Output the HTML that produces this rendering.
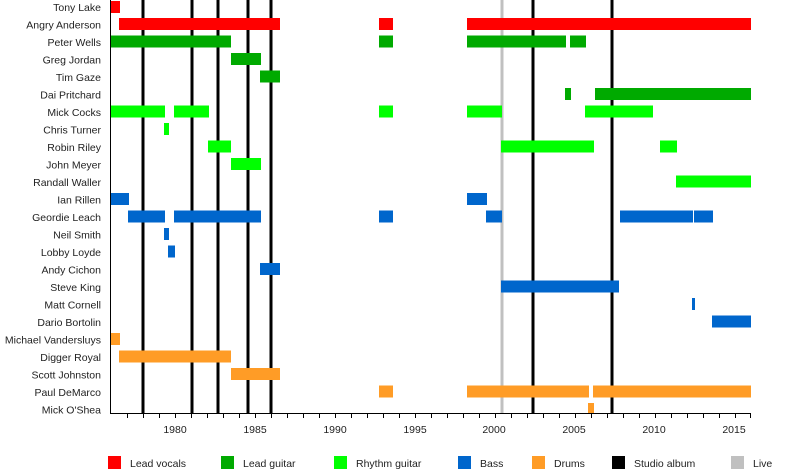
<!DOCTYPE html>
<html><head><meta charset="utf-8"><style>
html,body{margin:0;padding:0;background:#fff;}
svg{display:block;font-family:"Liberation Sans",sans-serif;}
</style></head><body>
<svg width="800" height="474" xmlns="http://www.w3.org/2000/svg">
<g stroke-width="3">
<line x1="143" y1="0" x2="143" y2="414" stroke="#000"/>
<line x1="192" y1="0" x2="192" y2="414" stroke="#000"/>
<line x1="218" y1="0" x2="218" y2="414" stroke="#000"/>
<line x1="248" y1="0" x2="248" y2="414" stroke="#000"/>
<line x1="271" y1="0" x2="271" y2="414" stroke="#000"/>
<line x1="502" y1="0" x2="502" y2="414" stroke="#c0c0c0"/>
<line x1="533" y1="0" x2="533" y2="414" stroke="#000"/>
<line x1="612" y1="0" x2="612" y2="414" stroke="#000"/>
</g>
<g>
<rect x="110" y="1" width="10" height="12" fill="#ff0000"/>
<rect x="119" y="18" width="161" height="12" fill="#ff0000"/>
<rect x="379" y="18" width="14" height="12" fill="#ff0000"/>
<rect x="467" y="18" width="284" height="12" fill="#ff0000"/>
<rect x="110" y="35.5" width="121" height="12" fill="#00aa00"/>
<rect x="379" y="35.5" width="14" height="12" fill="#00aa00"/>
<rect x="467" y="35.5" width="99" height="12" fill="#00aa00"/>
<rect x="570" y="35.5" width="16" height="12" fill="#00aa00"/>
<rect x="231" y="53" width="30" height="12" fill="#00aa00"/>
<rect x="260" y="70.5" width="20" height="12" fill="#00aa00"/>
<rect x="565" y="88" width="6" height="12" fill="#00aa00"/>
<rect x="595" y="88" width="156" height="12" fill="#00aa00"/>
<rect x="110" y="105.5" width="55" height="12" fill="#00ff00"/>
<rect x="174" y="105.5" width="35" height="12" fill="#00ff00"/>
<rect x="379" y="105.5" width="14" height="12" fill="#00ff00"/>
<rect x="467" y="105.5" width="35" height="12" fill="#00ff00"/>
<rect x="585" y="105.5" width="68" height="12" fill="#00ff00"/>
<rect x="164" y="123" width="5" height="12" fill="#00ff00"/>
<rect x="208" y="140.5" width="23" height="12" fill="#00ff00"/>
<rect x="501" y="140.5" width="93" height="12" fill="#00ff00"/>
<rect x="660" y="140.5" width="17" height="12" fill="#00ff00"/>
<rect x="231" y="158" width="30" height="12" fill="#00ff00"/>
<rect x="676" y="175.5" width="75" height="12" fill="#00ff00"/>
<rect x="110" y="193" width="19" height="12" fill="#0066cc"/>
<rect x="467" y="193" width="20" height="12" fill="#0066cc"/>
<rect x="128" y="210.5" width="37" height="12" fill="#0066cc"/>
<rect x="174" y="210.5" width="87" height="12" fill="#0066cc"/>
<rect x="379" y="210.5" width="14" height="12" fill="#0066cc"/>
<rect x="486" y="210.5" width="16" height="12" fill="#0066cc"/>
<rect x="620" y="210.5" width="73" height="12" fill="#0066cc"/>
<rect x="694" y="210.5" width="19" height="12" fill="#0066cc"/>
<rect x="164" y="228" width="5" height="12" fill="#0066cc"/>
<rect x="168" y="245.5" width="7" height="12" fill="#0066cc"/>
<rect x="260" y="263" width="20" height="12" fill="#0066cc"/>
<rect x="501" y="280.5" width="118" height="12" fill="#0066cc"/>
<rect x="692" y="298" width="3" height="12" fill="#0066cc"/>
<rect x="712" y="315.5" width="39" height="12" fill="#0066cc"/>
<rect x="110" y="333" width="10" height="12" fill="#ff9c26"/>
<rect x="119" y="350.5" width="112" height="12" fill="#ff9c26"/>
<rect x="231" y="368" width="49" height="12" fill="#ff9c26"/>
<rect x="379" y="385.5" width="14" height="12" fill="#ff9c26"/>
<rect x="467" y="385.5" width="122" height="12" fill="#ff9c26"/>
<rect x="593" y="385.5" width="158" height="12" fill="#ff9c26"/>
<rect x="588" y="403" width="6" height="11" fill="#ff9c26"/>
</g>
<line x1="110.5" y1="0" x2="110.5" y2="414" stroke="#000"/>
<line x1="110" y1="413.5" x2="751" y2="413.5" stroke="#000"/>
<g font-size="10.5" fill="#222" text-anchor="end">
<text x="101" y="11">Tony Lake</text>
<text x="101" y="28.5">Angry Anderson</text>
<text x="101" y="46">Peter Wells</text>
<text x="101" y="63.5">Greg Jordan</text>
<text x="101" y="81">Tim Gaze</text>
<text x="101" y="98.5">Dai Pritchard</text>
<text x="101" y="116">Mick Cocks</text>
<text x="101" y="133.5">Chris Turner</text>
<text x="101" y="151">Robin Riley</text>
<text x="101" y="168.5">John Meyer</text>
<text x="101" y="186">Randall Waller</text>
<text x="101" y="203.5">Ian Rillen</text>
<text x="101" y="221">Geordie Leach</text>
<text x="101" y="238.5">Neil Smith</text>
<text x="101" y="256">Lobby Loyde</text>
<text x="101" y="273.5">Andy Cichon</text>
<text x="101" y="291">Steve King</text>
<text x="101" y="308.5">Matt Cornell</text>
<text x="101" y="326">Dario Bortolin</text>
<text x="101" y="343.5">Michael Vandersluys</text>
<text x="101" y="361">Digger Royal</text>
<text x="101" y="378.5">Scott Johnston</text>
<text x="101" y="396">Paul DeMarco</text>
<text x="101" y="413.5">Mick O'Shea</text>
</g>
<g font-size="10.5" fill="#222" text-anchor="middle">
<text x="175" y="433">1980</text>
<text x="255" y="433">1985</text>
<text x="335" y="433">1990</text>
<text x="415" y="433">1995</text>
<text x="494" y="433">2000</text>
<text x="574" y="433">2005</text>
<text x="654" y="433">2010</text>
<text x="734" y="433">2015</text>
</g>
<g>
<rect x="108" y="456" width="13" height="13" fill="#ff0000"/>
<rect x="221" y="456" width="13" height="13" fill="#00aa00"/>
<rect x="334" y="456" width="13" height="13" fill="#00ff00"/>
<rect x="458" y="456" width="13" height="13" fill="#0066cc"/>
<rect x="532" y="456" width="13" height="13" fill="#ff9c26"/>
<rect x="612" y="456" width="13" height="13" fill="#000"/>
<rect x="731" y="456" width="13" height="13" fill="#c0c0c0"/>
</g>
<g font-size="10.5" fill="#222">
<text x="130" y="467">Lead vocals</text>
<text x="243" y="467">Lead guitar</text>
<text x="356" y="467">Rhythm guitar</text>
<text x="480" y="467">Bass</text>
<text x="554" y="467">Drums</text>
<text x="634" y="467">Studio album</text>
<text x="753" y="467">Live</text>
</g>
<g stroke="#000" stroke-width="1">
<line x1="127.5" y1="414" x2="127.5" y2="418"/><line x1="143.5" y1="414" x2="143.5" y2="418"/><line x1="159.5" y1="414" x2="159.5" y2="418"/><line x1="175.5" y1="414" x2="175.5" y2="418"/><line x1="191.5" y1="414" x2="191.5" y2="418"/><line x1="207.5" y1="414" x2="207.5" y2="418"/><line x1="223.5" y1="414" x2="223.5" y2="418"/><line x1="239.5" y1="414" x2="239.5" y2="418"/><line x1="255.5" y1="414" x2="255.5" y2="418"/><line x1="271.5" y1="414" x2="271.5" y2="418"/><line x1="287.5" y1="414" x2="287.5" y2="418"/><line x1="303.5" y1="414" x2="303.5" y2="418"/><line x1="319.5" y1="414" x2="319.5" y2="418"/><line x1="335.5" y1="414" x2="335.5" y2="418"/><line x1="351.5" y1="414" x2="351.5" y2="418"/><line x1="367.5" y1="414" x2="367.5" y2="418"/><line x1="383.5" y1="414" x2="383.5" y2="418"/><line x1="399.5" y1="414" x2="399.5" y2="418"/><line x1="415.5" y1="414" x2="415.5" y2="418"/><line x1="431.5" y1="414" x2="431.5" y2="418"/><line x1="447.5" y1="414" x2="447.5" y2="418"/><line x1="463.5" y1="414" x2="463.5" y2="418"/><line x1="479.5" y1="414" x2="479.5" y2="418"/><line x1="495.5" y1="414" x2="495.5" y2="418"/><line x1="511.5" y1="414" x2="511.5" y2="418"/><line x1="527.5" y1="414" x2="527.5" y2="418"/><line x1="543.5" y1="414" x2="543.5" y2="418"/><line x1="559.5" y1="414" x2="559.5" y2="418"/><line x1="575.5" y1="414" x2="575.5" y2="418"/><line x1="591.5" y1="414" x2="591.5" y2="418"/><line x1="607.5" y1="414" x2="607.5" y2="418"/><line x1="623.5" y1="414" x2="623.5" y2="418"/><line x1="639.5" y1="414" x2="639.5" y2="418"/><line x1="655.5" y1="414" x2="655.5" y2="418"/><line x1="671.5" y1="414" x2="671.5" y2="418"/><line x1="687.5" y1="414" x2="687.5" y2="418"/><line x1="703.5" y1="414" x2="703.5" y2="418"/><line x1="719.5" y1="414" x2="719.5" y2="418"/><line x1="735.5" y1="414" x2="735.5" y2="418"/><line x1="750.5" y1="414" x2="750.5" y2="418"/>
</g>
</svg>
</body></html>
